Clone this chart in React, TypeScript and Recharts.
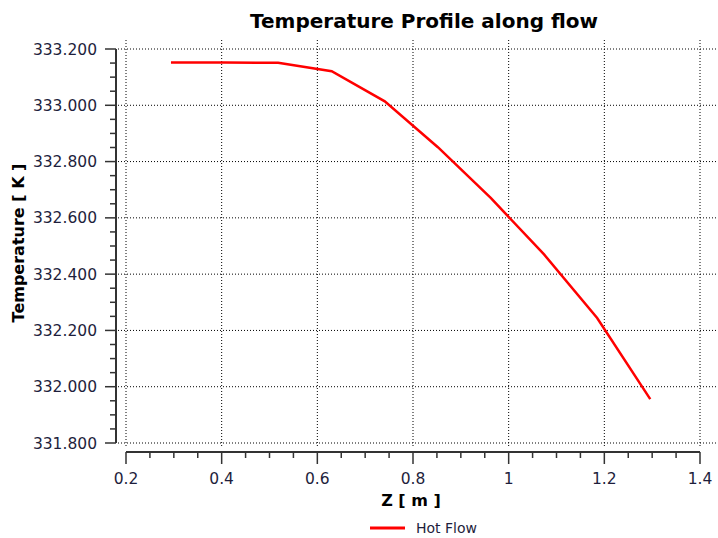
import React from 'react';
import { LineChart, Line, XAxis, YAxis, CartesianGrid, Legend, Label } from 'recharts';

// Z position [m] and hot flow temperature [K]
const zValues = [0.294, 0.407, 0.518, 0.63, 0.741, 0.852, 0.963, 1.074, 1.185, 1.296];
const hotFlow = [333.152, 333.152, 333.151, 333.121, 333.014, 332.851, 332.67, 332.47, 332.244, 331.956];

const xMajorTicks = [0.2, 0.4, 0.6, 0.8, 1, 1.2, 1.4];
const yMajorTicks = [331.8, 332.0, 332.2, 332.4, 332.6, 332.8, 333.0, 333.2];

const data = zValues.map((z, i) => ({ z, t: hotFlow[i] }));

// 3 minor ticks between each pair of major ticks
function withMinor(major: number[]): number[] {
  const out: number[] = [];
  major.forEach((v, i) => {
    out.push(v);
    if (i < major.length - 1) {
      const step = (major[i + 1] - v) / 4;
      for (let k = 1; k < 4; k++) out.push(v + step * k);
    }
  });
  return out;
}
const xTicks = withMinor(xMajorTicks);
const yTicks = withMinor(yMajorTicks);

const isMajor = (v: number, major: number[]) => major.some((m) => Math.abs(m - v) < 1e-6);

const FONT = "'DejaVu Sans', Verdana, sans-serif";
const LABEL_COLOR = '#1e1e3c';
const AXIS_COLOR = '#333';

function XTick(props: any) {
  const { x, y, payload } = props;
  const major = isMajor(payload.value, xMajorTicks);
  return (
    <g>
      <line x1={x} x2={x} y1={y + 9} y2={y + (major ? 21 : 15)} stroke={AXIS_COLOR} strokeWidth={1.5} />
      {major && (
        <text x={x} y={y + 40.5} textAnchor="middle" fill={LABEL_COLOR} fontSize={15.5} fontFamily={FONT}>
          {String(Math.round(payload.value * 10) / 10)}
        </text>
      )}
    </g>
  );
}

function YTick(props: any) {
  const { x, y, payload } = props;
  const major = isMajor(payload.value, yMajorTicks);
  return (
    <g>
      <line x1={x - (major ? 21 : 16)} x2={x - 10} y1={y} y2={y} stroke={AXIS_COLOR} strokeWidth={1.5} />
      {major && (
        <text x={x - 29} y={y + 5.6} textAnchor="end" fill={LABEL_COLOR} fontSize={15.5} fontFamily={FONT}>
          {payload.value.toFixed(3)}
        </text>
      )}
    </g>
  );
}

// grid lines run a little past the data range, like the original
function HLine(props: any) {
  const { key, x1, x2, y1, y2 } = props;
  return <line key={key} x1={x1 - 8} x2={x2 + 18} y1={y1} y2={y2} stroke="#000" strokeWidth={1} strokeDasharray="1 2" />;
}
function VLine(props: any) {
  const { key, x1, x2, y1, y2 } = props;
  return <line key={key} x1={x1} x2={x2} y1={y1 - 9} y2={y2 + 4} stroke="#000" strokeWidth={1} strokeDasharray="1 2" />;
}

function LegendContent() {
  return (
    <div style={{ display: 'flex', alignItems: 'center', fontFamily: FONT }}>
      <svg width={35} height={6} style={{ marginLeft: 370 }}>
        <line x1={0} x2={35} y1={3} y2={3} stroke="#ff0000" strokeWidth={3} />
      </svg>
      <span style={{ marginLeft: 11, fontSize: 14, color: LABEL_COLOR }}>Hot Flow</span>
    </div>
  );
}

export default function App() {
  return (
    <div style={{ position: 'absolute', left: 0, top: 0, width: 718, height: 538, background: '#fff' }}>
      <div
        style={{
          position: 'absolute',
          left: 0,
          top: 11,
          width: 848,
          textAlign: 'center',
          fontFamily: FONT,
          fontWeight: 'bold',
          fontSize: 20,
          lineHeight: '20px',
          color: '#000',
        }}
      >
        Temperature Profile along flow
      </div>
      <LineChart
        width={718}
        height={538}
        data={data}
        margin={{ top: 49, right: 18, bottom: 0, left: 0 }}
        style={{ fontFamily: FONT }}
      >
        <CartesianGrid
          horizontalValues={yMajorTicks}
          verticalValues={xMajorTicks}
          horizontal={HLine}
          vertical={VLine}
        />
        <XAxis
          dataKey="z"
          type="number"
          domain={[0.2, 1.4]}
          ticks={xTicks}
          interval={0}
          height={95}
          tickSize={0}
          tickMargin={0}
          tickLine={false}
          tick={XTick}
          axisLine={{ stroke: AXIS_COLOR, strokeWidth: 2, transform: 'translate(0,9)' }}
        >
          <Label
            content={(p: any) => {
              const vb = p.viewBox;
              return (
                <text x={vb.x + vb.width / 2 - 2} y={506} textAnchor="middle" fontWeight="bold" fontSize={16} fontFamily={FONT} fill="#000">
                  Z [ m ]
                </text>
              );
            }}
          />
        </XAxis>
        <YAxis
          type="number"
          domain={[331.8, 333.2]}
          ticks={yTicks}
          interval={0}
          width={126}
          tickSize={0}
          tickMargin={0}
          tickLine={false}
          tick={YTick}
          axisLine={{ stroke: AXIS_COLOR, strokeWidth: 2, transform: 'translate(-10,0)' }}
        >
          <Label
            content={() => (
              <text x={24} y={243} transform="rotate(-90, 24, 243)" textAnchor="middle" fontWeight="bold" fontSize={16} fontFamily={FONT} fill="#000">
                Temperature [ K ]
              </text>
            )}
          />
        </YAxis>
        <Legend
          layout="horizontal"
          verticalAlign="middle"
          align="center"
          wrapperStyle={{ top: 520, left: 0, width: 718 }}
          content={LegendContent}
        />
        <Line
          type="linear"
          dataKey="t"
          name="Hot Flow"
          stroke="#ff0000"
          strokeWidth={2.5}
          dot={false}
          isAnimationActive={false}
        />
      </LineChart>
    </div>
  );
}
